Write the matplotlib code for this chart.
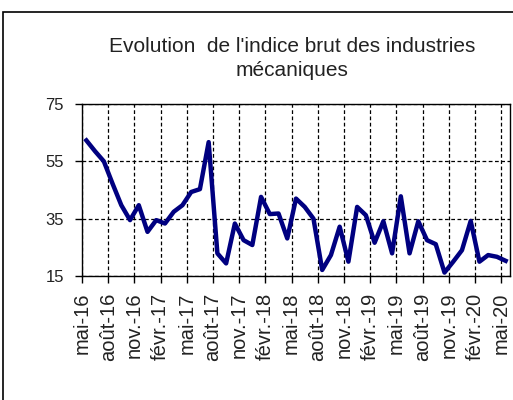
import matplotlib.pyplot as plt
import matplotlib.transforms as mtransforms
from matplotlib.patches import Rectangle

plt.rcParams['font.family'] = ['Liberation Sans', 'DejaVu Sans']

values = [62.3, 58.5, 55.0, 47.2, 39.7, 34.5, 39.7, 30.4, 34.5, 33.3,
          37.4, 39.7, 44.3, 45.3, 61.7, 22.9, 19.4, 33.3, 27.5, 25.8,
          42.6, 36.6, 36.8, 28.1, 42.0, 39.1, 35.0, 17.1, 22.3, 32.2,
          20.0, 39.1, 36.2, 26.6, 34.1, 22.9, 42.8, 22.9, 34.1, 27.5,
          26.1, 16.2, 20.0, 24.0, 34.2, 20.0, 22.3, 21.7, 20.3]
tick_labels = ["mai-16", "août-16", "nov.-16", "févr.-17", "mai-17", "août-17",
               "nov.-17", "févr.-18", "mai-18", "août-18", "nov.-18", "févr.-19",
               "mai-19", "août-19", "nov.-19", "févr.-20", "mai-20"]
y_ticks = [15, 35, 55, 75]

fig = plt.figure(figsize=(5.13, 4.0), dpi=100)
ax = fig.add_axes([82 / 513, 1 - 276 / 400, 428 / 513, 172 / 400])

x = list(range(len(values)))
ax.plot(x, values, color='#000080', lw=3.2, solid_joinstyle='round', zorder=3)

ax.set_xlim(-0.5, len(values) - 0.5)
ax.set_ylim(15, 75)
ax.set_yticks(y_ticks)

# ticks sit on category boundaries, one every 3 months
ticks = [3 * k - 0.5 for k in range(len(tick_labels))]
ax.set_xticks(ticks)
ax.set_xticklabels(tick_labels, rotation=90, fontsize=14.5)
offset = mtransforms.ScaledTranslation(2 / 100, 0, fig.dpi_scale_trans)
for lab in ax.get_xticklabels():
    lab.set_transform(lab.get_transform() + offset)

ax.tick_params(axis='x', direction='out', length=5, width=1, pad=7, colors='black')
ax.tick_params(axis='y', direction='out', length=5, width=1, pad=8, labelsize=12, colors='black')
for lab in ax.get_yticklabels():
    lab.set_color('#222222')
for lab in ax.get_xticklabels():
    lab.set_color('#222222')

ax.grid(True, color='black', linestyle=(0, (3, 2)), lw=0.9)
for s in ax.spines.values():
    s.set_color('black')
    s.set_linewidth(1)

fig.text(292 / 513, 1 - 52 / 400, "Evolution  de l'indice brut des industries",
         ha='center', va='baseline', fontsize=15, color='#222222')
fig.text(292 / 513, 1 - 76 / 400, "mécaniques",
         ha='center', va='baseline', fontsize=15, color='#222222')

fig.patches.append(Rectangle((2.5 / 513, -0.1), 1.2, 1.1 - 12 / 400, transform=fig.transFigure,
                             fill=False, edgecolor='black', lw=1.2))

fig.savefig('out.png', dpi=100)
